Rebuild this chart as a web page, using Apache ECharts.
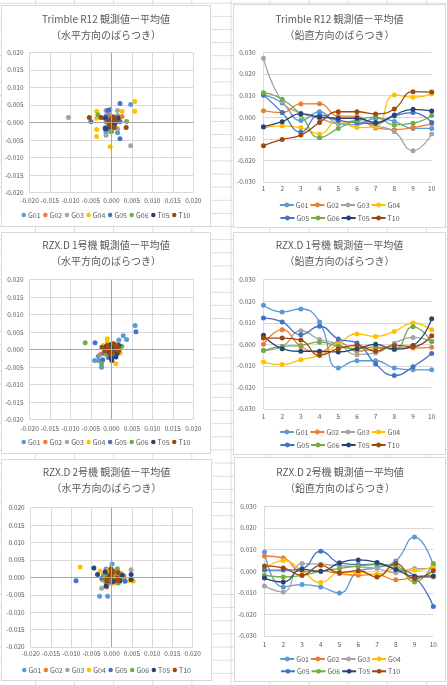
<!DOCTYPE html>
<html>
<head>
<meta charset="utf-8">
<script src="https://cdn.jsdelivr.net/npm/echarts@6/dist/echarts.min.js"></script>
<style>
  html, body { margin: 0; padding: 0; }
  body {
    width: 447px; height: 685px; position: relative; overflow: hidden;
    background-color: #fff;
    background-image:
      linear-gradient(to right, #dcdcdc 1px, transparent 1px),
      linear-gradient(to bottom, #dcdcdc 1px, transparent 1px);
    background-size: 39.1px 13.15px;
    background-position: 35px 2.7px;
  }
  .panel { position: absolute; box-sizing: border-box; border: 1px solid #d9d9d9; background: #fff; }
  .panel > div { position: absolute; left: 0; top: 0; right: 0; bottom: 0; }
</style>
</head>
<body>
<script>
const names = ['G01', 'G02', 'G03', 'G04', 'G05', 'G06', 'T05', 'T10'];
const colors = ['#5B9BD5', '#ED7D31', '#A5A5A5', '#FFC000', '#4472C4', '#70AD47', '#264478', '#9E480E'];
const epochs = ['1', '2', '3', '4', '5', '6', '7', '8', '9', '10'];

// 水平方向 [x, y] (m), order = names
const r12Horizontal = [
  [[0.0047,0.0051],[-0.0013,0.0019],[0.0015,-0.0029],[-0.0013,-0.0028],[0.0015,0.0019],[-0.0013,0.0002],[0.0002,0.0013],[-0.0008,-0.0012],[0.0010,0.0005],[-0.0005,0.0022]],
  [[-0.0005,0.0017],[0.0026,0.0017],[-0.0003,-0.0012],[0.0002,0.0015],[-0.0001,-0.0008],[0.0012,0.0010],[-0.0010,0.0004],[0.0006,-0.0004],[0.0018,0.0008],[-0.0002,0.0018]],
  [[-0.0105,0.0014],[0.0047,-0.0066],[0.0015,0.0034],[-0.0013,0.0034],[-0.0013,-0.0036],[0.0015,-0.0018],[-0.0012,-0.0016],[0.0005,0.0012],[-0.0004,-0.0006],[0.0009,0.0001]],
  [[-0.0036,0.0032],[-0.0036,0.0012],[-0.0036,-0.0020],[-0.0036,-0.0040],[0.0057,0.0060],[0.0057,0.0032],[-0.0003,-0.0069],[0.0026,0.0032],[-0.0002,-0.0018],[0.0010,0.0016]],
  [[-0.0050,0.0003],[0.0021,0.0054],[0.0021,-0.0046],[-0.0009,0.0034],[0.0021,0.0003],[-0.0011,0.0015],[0.0000,-0.0010],[0.0012,0.0012],[-0.0004,0.0036],[-0.0015,-0.0015]],
  [[-0.0033,0.0022],[0.0037,0.0003],[-0.0001,-0.0026],[0.0000,0.0003],[-0.0001,0.0005],[0.0001,-0.0024],[-0.0005,0.0010],[0.0004,-0.0005],[-0.0008,-0.0002],[0.0008,0.0008]],
  [[-0.0015,-0.0018],[0.0013,0.0011],[-0.0015,0.0013],[-0.0012,-0.0018],[0.0016,0.0013],[0.0000,0.0000],[-0.0006,0.0006],[0.0008,-0.0004],[-0.0003,-0.0012],[0.0004,0.0016]],
  [[-0.0054,0.0014],[-0.0025,0.0014],[0.0007,0.0014],[0.0036,-0.0014],[0.0007,-0.0014],[-0.0002,-0.0010],[0.0002,0.0012],[-0.0008,0.0004],[0.0012,0.0002],[-0.0004,-0.0004]]
];
const rzx1Horizontal = [
  [[0.0058,0.0069],[0.0029,0.0040],[0.0037,0.0029],[0.0018,0.0028],[-0.0041,-0.0031],[-0.0031,-0.0031],[-0.0032,-0.0019],[-0.0024,-0.0050],[-0.0012,-0.0012],[0.0006,0.0012]],
  [[-0.0026,-0.0012],[-0.0004,0.0002],[0.0008,-0.0008],[-0.0012,0.0010],[0.0002,-0.0016],[0.0014,0.0004],[-0.0008,-0.0004],[0.0004,0.0008],[-0.0016,-0.0006],[0.0010,-0.0002]],
  [[0.0016,0.0018],[-0.0008,-0.0022],[0.0004,0.0012],[-0.0014,-0.0008],[0.0010,-0.0010],[-0.0004,0.0004],[0.0020,0.0006],[-0.0002,-0.0014],[0.0006,0.0016],[-0.0010,0.0002]],
  [[-0.0010,0.0031],[0.0011,-0.0040],[0.0021,-0.0010],[-0.0020,0.0012],[-0.0010,0.0022],[0.0018,-0.0006],[0.0004,0.0008],[-0.0006,-0.0012],[0.0012,0.0002],[-0.0016,-0.0004]],
  [[0.0060,0.0051],[-0.0040,0.0020],[-0.0021,-0.0029],[0.0010,-0.0019],[-0.0012,0.0010],[0.0016,0.0012],[-0.0006,-0.0022],[0.0004,0.0004],[-0.0018,-0.0010],[0.0008,-0.0008]],
  [[-0.0064,0.0020],[-0.0024,-0.0040],[0.0025,0.0010],[-0.0014,-0.0012],[0.0012,0.0006],[-0.0002,-0.0004],[0.0006,-0.0014],[-0.0010,0.0004],[0.0018,-0.0002],[0.0002,0.0010]],
  [[0.0001,-0.0031],[0.0011,-0.0021],[-0.0012,0.0010],[0.0018,0.0012],[-0.0006,-0.0006],[0.0006,0.0004],[-0.0002,0.0014],[0.0014,-0.0010],[-0.0016,0.0000],[0.0000,-0.0024]],
  [[-0.0023,0.0007],[0.0005,0.0017],[-0.0003,-0.0013],[0.0018,-0.0003],[-0.0014,-0.0003],[0.0010,0.0006],[-0.0006,0.0002],[0.0002,-0.0008],[0.0014,0.0010],[-0.0010,0.0012]]
];
const rzx2Horizontal = [
  [[-0.0030,-0.0054],[-0.0010,-0.0054],[0.0001,0.0038],[-0.0014,0.0024],[0.0020,0.0010],[-0.0006,-0.0006],[0.0010,-0.0010],[0.0030,0.0004],[-0.0020,0.0006],[0.0004,0.0016]],
  [[-0.0012,-0.0028],[0.0022,0.0010],[-0.0024,-0.0006],[0.0008,0.0004],[-0.0006,0.0016],[0.0016,-0.0010],[0.0030,0.0000],[-0.0018,0.0008],[0.0002,-0.0016],[0.0012,0.0018]],
  [[-0.0025,-0.0031],[0.0048,0.0022],[-0.0008,-0.0018],[0.0012,0.0014],[-0.0016,0.0004],[0.0026,-0.0006],[0.0004,0.0000],[-0.0004,0.0020],[0.0018,-0.0014],[-0.0020,-0.0008]],
  [[-0.0078,0.0030],[-0.0029,0.0018],[0.0053,-0.0011],[0.0044,-0.0009],[-0.0010,0.0020],[0.0016,0.0004],[-0.0004,-0.0008],[0.0024,0.0012],[-0.0018,-0.0004],[0.0008,-0.0016]],
  [[-0.0088,-0.0010],[0.0033,-0.0011],[-0.0016,0.0010],[0.0010,0.0018],[-0.0006,-0.0012],[0.0022,0.0002],[0.0002,0.0014],[-0.0024,-0.0002],[0.0014,-0.0006],[-0.0010,0.0006]],
  [[0.0014,0.0025],[0.0024,0.0002],[-0.0018,0.0004],[0.0006,-0.0010],[-0.0008,-0.0006],[0.0016,-0.0016],[-0.0002,0.0010],[0.0010,0.0012],[-0.0014,-0.0014],[0.0004,-0.0002]],
  [[-0.0044,0.0027],[-0.0035,0.0008],[-0.0014,-0.0025],[0.0048,0.0008],[0.0048,-0.0006],[-0.0016,0.0016],[0.0004,-0.0012],[0.0020,-0.0010],[-0.0004,0.0004],[0.0026,0.0006]],
  [[-0.0002,0.0025],[-0.0012,-0.0010],[0.0016,-0.0010],[-0.0002,0.0008],[0.0016,0.0014],[-0.0012,-0.0004],[0.0002,0.0016],[0.0014,-0.0002],[-0.0002,0.0000],[0.0000,0.0020]]
];

// 鉛直方向 (m) per epoch, order = names
const r12Vertical = [
  [0.0103,0.0065,-0.0016,0.0025,-0.0030,-0.0036,-0.0005,-0.0020,-0.0052,-0.0052],
  [0.0030,0.0021,0.0061,0.0062,0.0005,0.0004,-0.0050,-0.0058,-0.0048,-0.0031],
  [0.0272,0.0072,0.0018,-0.0005,-0.0030,-0.0015,-0.0040,-0.0067,-0.0155,-0.0078],
  [-0.0048,-0.0040,-0.0048,-0.0078,-0.0015,-0.0048,-0.0044,0.0103,0.0092,0.0107],
  [0.0103,0.0021,-0.0069,0.0010,-0.0015,-0.0025,-0.0030,0.0005,0.0021,-0.0025],
  [0.0113,0.0083,0.0010,-0.0095,-0.0052,-0.0015,0.0000,-0.0036,-0.0028,0.0008],
  [-0.0044,-0.0021,0.0016,0.0000,-0.0005,-0.0005,-0.0025,0.0010,0.0036,0.0029],
  [-0.0132,-0.0103,-0.0083,-0.0025,0.0025,0.0025,0.0015,0.0038,0.0118,0.0116]
];
const rzx1Vertical = [
  [0.0181,0.0150,0.0164,0.0104,-0.0110,-0.0076,-0.0076,-0.0110,-0.0118,-0.0118],
  [0.0000,0.0068,-0.0010,-0.0036,0.0011,-0.0032,-0.0020,-0.0017,-0.0017,-0.0014],
  [-0.0029,-0.0010,0.0063,0.0022,0.0002,-0.0048,-0.0040,0.0005,0.0032,0.0014],
  [-0.0082,-0.0094,-0.0071,-0.0050,0.0000,0.0048,0.0037,0.0060,0.0099,0.0068],
  [0.0122,0.0104,0.0045,0.0084,0.0025,0.0006,-0.0091,-0.0145,-0.0104,-0.0043],
  [-0.0029,-0.0010,-0.0005,0.0010,-0.0008,-0.0020,-0.0012,-0.0025,0.0082,0.0013],
  [0.0042,-0.0020,-0.0032,-0.0032,-0.0035,-0.0020,0.0000,-0.0022,-0.0005,0.0119],
  [0.0029,0.0029,0.0020,-0.0051,-0.0020,-0.0005,-0.0032,-0.0005,-0.0010,0.0040]
];
const rzx2Vertical = [
  [0.0089,-0.0073,-0.0062,-0.0073,-0.0101,0.0000,0.0016,0.0047,0.0158,0.0027],
  [0.0070,0.0061,-0.0002,0.0000,-0.0012,-0.0019,-0.0016,-0.0040,-0.0030,-0.0027],
  [-0.0069,-0.0096,0.0035,0.0032,0.0025,0.0020,0.0012,-0.0007,0.0012,0.0012],
  [0.0008,0.0049,0.0002,-0.0053,-0.0007,-0.0005,-0.0016,0.0012,0.0004,0.0022],
  [0.0005,0.0005,0.0012,0.0092,0.0038,0.0030,0.0032,0.0011,-0.0024,-0.0163],
  [-0.0019,-0.0027,-0.0020,0.0000,0.0012,0.0024,0.0030,0.0024,-0.0050,0.0035],
  [-0.0032,-0.0050,0.0008,0.0000,0.0038,0.0052,0.0040,0.0008,-0.0024,-0.0022],
  [0.0024,0.0015,-0.0019,0.0027,-0.0007,0.0002,-0.0027,0.0035,-0.0035,0.0002]
];

// layout in page coordinates: box = [left, top, w, h], plot = [x0, y0, x1, y1]
const panels = [
  { kind: 'scatter', title: 'Trimble R12 観測値ー平均値\n（水平方向のばらつき）', data: r12Horizontal,
    box: [1, 5, 210, 222], plot: [29.3, 52.3, 193.3, 192.7], titleY: 19, xLabelY: 201, legendY: [215] },
  { kind: 'line', title: 'Trimble R12 観測値ー平均値\n（鉛直方向のばらつき）', data: r12Vertical,
    box: [233, 4, 213, 224], plot: [262.3, 52.3, 431.7, 182], titleY: 19, xLabelY: 189, legendY: [205, 218] },
  { kind: 'scatter', title: 'RZX.D 1号機 観測値ー平均値\n（水平方向のばらつき）', data: rzx1Horizontal,
    box: [1, 232, 210, 222], plot: [29.3, 279.7, 193.3, 419.7], titleY: 245.3, xLabelY: 429, legendY: [442] },
  { kind: 'line', title: 'RZX.D 1号機 観測値ー平均値\n（鉛直方向のばらつき）', data: rzx1Vertical,
    box: [233, 232, 213, 223], plot: [262.3, 279.7, 431.7, 409], titleY: 245, xLabelY: 417, legendY: [432, 445] },
  { kind: 'scatter', title: 'RZX.D 2号機 観測値ー平均値\n（水平方向のばらつき）', data: rzx2Horizontal,
    box: [1, 459, 211, 222], plot: [30.7, 507.7, 192.7, 647], titleY: 472, xLabelY: 654, legendY: [670] },
  { kind: 'line', title: 'RZX.D 2号機 観測値ー平均値\n（鉛直方向のばらつき）', data: rzx2Vertical,
    box: [234, 457, 212, 225], plot: [263.3, 506.3, 433.3, 636], titleY: 472, xLabelY: 645, legendY: [659, 671.3] }
];

const FONT = '"Noto Sans CJK JP", "Noto Sans", sans-serif';
const TXT = '#595959';
const GRID = '#d9d9d9';

function fmt(v) {
  if (Math.abs(v) < 1e-9) return '0.000';
  return v.toFixed(3);
}

function buildOption(p) {
  const ox = p.box[0] + 1, oy = p.box[1] + 1;
  const grid = {
    left: p.plot[0] - ox, top: p.plot[1] - oy,
    width: p.plot[2] - p.plot[0], height: p.plot[3] - p.plot[1]
  };
  const isLine = p.kind === 'line';
  const axisLabel = { fontSize: 6.5, color: TXT, fontFamily: FONT };
  const legendRows = isLine ? [names.slice(0, 4), names.slice(4)] : [names];
  const legend = legendRows.map((row, i) => ({
    data: row,
    left: 'center',
    top: p.legendY[i] - oy - 5,
    padding: 0,
    icon: isLine ? undefined : 'circle',
    itemWidth: isLine ? 14 : 4.5,
    itemHeight: isLine ? 6 : 4.5,
    itemGap: isLine ? 1 : 2.5,
    textStyle: { fontSize: 7, color: TXT, fontFamily: FONT, lineHeight: 10, padding: [0, 0, 0, -3] }
  }));

  const series = names.map((n, i) => isLine ? {
    name: n, type: 'line', data: p.data[i], smooth: true,
    symbol: 'circle', symbolSize: 5, showSymbol: true,
    itemStyle: { color: colors[i] },
    lineStyle: { color: colors[i], width: 1.3 }
  } : {
    name: n, type: 'scatter', data: p.data[i], symbolSize: 5,
    itemStyle: { color: colors[i], opacity: 1 }
  });

  if (!isLine) {
    // 原点を通る軸線
    series[0].markLine = {
      silent: true, symbol: 'none', animation: false,
      label: { show: false },
      lineStyle: { color: '#a6a6a6', width: 1, type: 'solid' },
      data: [{ xAxis: 0 }, { yAxis: 0 }]
    };
  }

  const xMargin = p.xLabelY - p.plot[3] - 4;
  return {
    animation: false,
    textStyle: { fontFamily: FONT },
    title: {
      text: p.title, left: 'center', top: p.titleY - oy - 8, padding: 0,
      textStyle: { fontSize: 10, fontWeight: 'normal', color: TXT, lineHeight: 16, fontFamily: FONT }
    },
    legend: legend,
    grid: grid,
    xAxis: isLine ? {
      type: 'category', data: epochs, boundaryGap: false,
      axisLine: { show: false }, axisTick: { show: false },
      splitLine: { show: false },
      axisLabel: Object.assign({ margin: xMargin }, axisLabel)
    } : {
      type: 'value', min: -0.02, max: 0.02, interval: 0.005,
      axisLine: { show: false }, axisTick: { show: false },
      splitLine: { show: true, lineStyle: { color: GRID, width: 1 } },
      axisLabel: Object.assign({ margin: xMargin, formatter: fmt, hideOverlap: false }, axisLabel)
    },
    yAxis: isLine ? {
      type: 'value', min: -0.03, max: 0.03, interval: 0.01,
      axisLine: { show: true, lineStyle: { color: GRID } }, axisTick: { show: false },
      splitLine: { show: true, lineStyle: { color: GRID, width: 1 } },
      axisLabel: Object.assign({ margin: 8, formatter: fmt }, axisLabel)
    } : {
      type: 'value', min: -0.02, max: 0.02, interval: 0.005,
      axisLine: { show: false }, axisTick: { show: false },
      splitLine: { show: true, lineStyle: { color: GRID, width: 1 } },
      axisLabel: Object.assign({ margin: 6, formatter: fmt }, axisLabel)
    },
    series: series
  };
}

panels.forEach(p => {
  const wrap = document.createElement('div');
  wrap.className = 'panel';
  wrap.style.left = p.box[0] + 'px';
  wrap.style.top = p.box[1] + 'px';
  wrap.style.width = p.box[2] + 'px';
  wrap.style.height = p.box[3] + 'px';
  const el = document.createElement('div');
  wrap.appendChild(el);
  document.body.appendChild(wrap);
  const chart = echarts.init(el, null, { renderer: 'canvas' });
  chart.setOption(buildOption(p));
});
</script>
</body>
</html>
